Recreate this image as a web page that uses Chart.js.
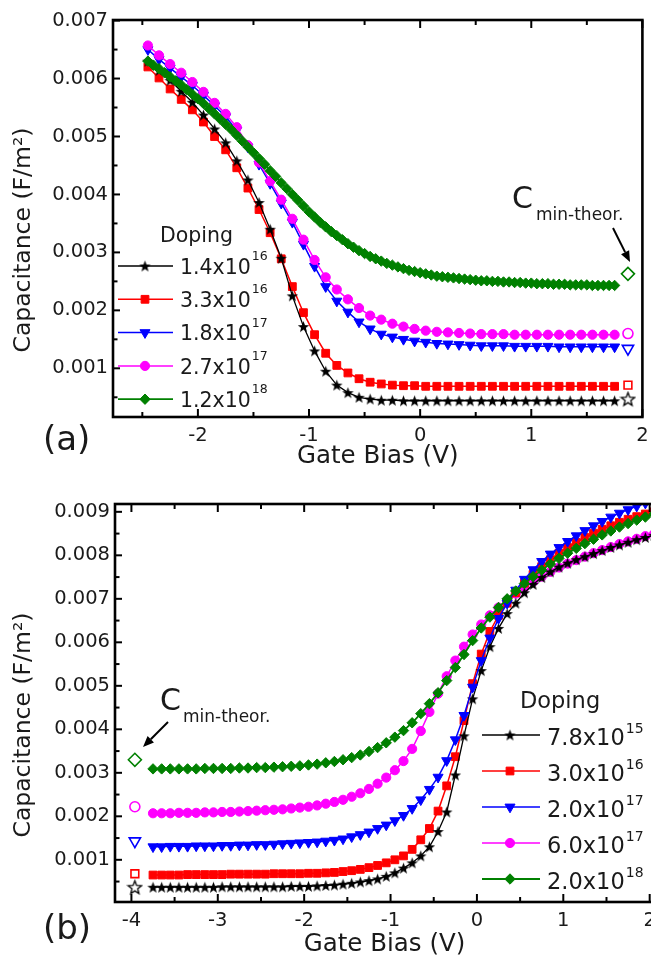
<!DOCTYPE html>
<html><head><meta charset="utf-8">
<script src="https://cdn.jsdelivr.net/npm/chart.js@4.4.1/dist/chart.umd.min.js"></script>
<style>
html,body{margin:0;padding:0;background:#fff;overflow:hidden;width:651px;height:960px;}
#ca{position:absolute;left:0;top:0;}
#cb{position:absolute;left:0;top:478px;}
</style></head><body>
<canvas id="ca" width="651" height="478"></canvas>
<canvas id="cb" width="700" height="482"></canvas>
<script>
// ---------------- DATA : panel (a) ----------------
const xA = [-2.45,-2.35,-2.25,-2.15,-2.05,-1.95,-1.85,-1.75,-1.65,-1.55,-1.45,-1.35,-1.25,-1.15,-1.05,-0.95,-0.85,-0.75,-0.65,-0.55,-0.45,-0.35,-0.25,-0.15,-0.05,0.05,0.15,0.25,0.35,0.45,0.55,0.65,0.75,0.85,0.95,1.05,1.15,1.25,1.35,1.45,1.55,1.65,1.75];
const blackA = [0.00630,0.00614,0.00597,0.00578,0.00559,0.00537,0.00513,0.00489,0.00458,0.00425,0.00386,0.00340,0.00290,0.00225,0.00172,0.00130,0.00095,0.00071,0.00058,0.00050,0.00047,0.00045,0.00045,0.00044,0.00044,0.00044,0.00044,0.00044,0.00044,0.00044,0.00044,0.00044,0.00044,0.00044,0.00044,0.00044,0.00044,0.00044,0.00044,0.00044,0.00044,0.00044,0.00044];
const redA = [0.00620,0.00601,0.00582,0.00564,0.00546,0.00525,0.00500,0.00477,0.00446,0.00411,0.00374,0.00334,0.00289,0.00241,0.00196,0.00158,0.00126,0.00105,0.00092,0.00082,0.00076,0.00073,0.00071,0.00070,0.00070,0.00069,0.00069,0.00069,0.00069,0.00069,0.00069,0.00069,0.00069,0.00069,0.00069,0.00069,0.00069,0.00069,0.00069,0.00069,0.00069,0.00069,0.00069];
const blueA = [0.00650,0.00633,0.00618,0.00603,0.00588,0.00571,0.00553,0.00534,0.00511,0.00482,0.00452,0.00419,0.00385,0.00352,0.00314,0.00276,0.00241,0.00216,0.00197,0.00180,0.00168,0.00159,0.00154,0.00150,0.00147,0.00145,0.00143,0.00142,0.00141,0.00140,0.00139,0.00139,0.00139,0.00138,0.00138,0.00138,0.00138,0.00137,0.00137,0.00137,0.00137,0.00137,0.00137];
const magentaA = [0.00657,0.00640,0.00625,0.00610,0.00594,0.00577,0.00558,0.00539,0.00516,0.00485,0.00455,0.00423,0.00391,0.00358,0.00322,0.00287,0.00257,0.00236,0.00219,0.00204,0.00191,0.00184,0.00177,0.00172,0.00168,0.00165,0.00163,0.00162,0.00161,0.00160,0.00159,0.00159,0.00159,0.00158,0.00158,0.00158,0.00158,0.00158,0.00158,0.00158,0.00158,0.00158,0.00158];
const xAg = [-2.45,-2.4,-2.35,-2.3,-2.25,-2.2,-2.15,-2.1,-2.05,-2,
-1.95,-1.9,-1.85,-1.8,-1.75,-1.7,-1.65,-1.6,-1.55,-1.5,
-1.45,-1.4,-1.35,-1.3,-1.25,-1.2,-1.15,-1.1,-1.05,-1,
-0.95,-0.9,-0.85,-0.8,-0.75,-0.7,-0.65,-0.6,-0.55,-0.5,
-0.45,-0.4,-0.35,-0.3,-0.25,-0.2,-0.15,-0.1,-0.05,0,
0.05,0.1,0.15,0.2,0.25,0.3,0.35,0.4,0.45,0.5,
0.55,0.6,0.65,0.7,0.75,0.8,0.85,0.9,0.95,1,
1.05,1.1,1.15,1.2,1.25,1.3,1.35,1.4,1.45,1.5,
1.55,1.6,1.65,1.7,1.75];
const greenA = [0.00630,0.00623,0.00617,0.00610,0.00603,0.00596,0.00589,0.00581,0.00573,0.00565,
0.00557,0.00548,0.00539,0.00530,0.00521,0.00512,0.00502,0.00492,0.00482,0.00472,
0.00462,0.00452,0.00441,0.00431,0.00420,0.00410,0.00400,0.00390,0.00380,0.00370,
0.00361,0.00352,0.00344,0.00336,0.00329,0.00322,0.00315,0.00309,0.00303,0.00298,
0.00293,0.00289,0.00285,0.00281,0.00278,0.00275,0.00272,0.00269,0.00267,0.00265,
0.00263,0.00261,0.00259,0.00258,0.00257,0.00256,0.00255,0.00254,0.00253,0.00252,
0.00251,0.00251,0.00250,0.00250,0.00249,0.00249,0.00248,0.00248,0.00247,0.00247,
0.00246,0.00246,0.00246,0.00245,0.00245,0.00245,0.00244,0.00244,0.00244,0.00244,
0.00243,0.00243,0.00243,0.00243,0.00243];
// theoretical Cmin (open symbols) for (a): black, red, blue, magenta, green
const xTheoryA = [1.87,1.87,1.87,1.87,1.87];
const theoryA = [0.00047,0.00071,0.00134,0.00160,0.00263];
const dopingA = ['1.4x10','3.3x10','1.8x10','2.7x10','1.2x10'];
const expA = ['16','16','17','17','18'];
const xTicksA = [-2.5,-2,-1.5,-1,-0.5,0,0.5,1,1.5,2];
const xLabelsA = ['','-2','','-1','','0','','1','','2'];
const yTicksA = [0.0005,0.001,0.0015,0.002,0.0025,0.003,0.0035,0.004,0.0045,0.005,0.0055,0.006,0.0065,0.007];
const yLabelsA = ['','0.001','','0.002','','0.003','','0.004','','0.005','','0.006','','0.007'];

// ---------------- DATA : panel (b) ----------------
const xB = [-3.75,-3.65,-3.55,-3.45,-3.35,-3.25,-3.15,-3.05,-2.95,-2.85,-2.75,-2.65,-2.55,-2.45,-2.35,-2.25,-2.15,-2.05,
-1.95,-1.85,-1.75,-1.65,-1.55,-1.45,-1.35,-1.25,-1.15,-1.05,-0.95,-0.85,-0.75,-0.65,-0.55,-0.45,-0.35,-0.25,-0.15,-0.05,
0.05,0.15,0.25,0.35,0.45,0.55,0.65,0.75,0.85,0.95,1.05,1.15,1.25,1.35,1.45,1.55,1.65,1.75,1.85,1.95,2.05];
const blackB = [0.00037,0.00037,0.00037,0.00037,0.00037,0.00037,0.00037,0.00037,0.00038,0.00038,0.00038,0.00038,0.00038,0.00038,0.00038,0.00038,0.00039,0.00039,
0.00039,0.00040,0.00041,0.00042,0.00044,0.00046,0.00049,0.00052,0.00056,0.00062,0.00070,0.00081,0.00093,0.00109,0.00130,0.00165,0.00210,0.00295,0.00385,0.00470,
0.00535,0.00590,0.00632,0.00666,0.00690,0.00714,0.00733,0.00749,0.00762,0.00773,0.00782,0.00790,0.00797,0.00804,0.00811,0.00818,0.00824,0.00830,0.00836,0.00841,0.00846];
const redB = [0.00065,0.00065,0.00065,0.00065,0.00066,0.00066,0.00066,0.00066,0.00066,0.00067,0.00067,0.00067,0.00067,0.00067,0.00068,0.00068,0.00068,0.00068,
0.00069,0.00069,0.00070,0.00071,0.00073,0.00075,0.00078,0.00082,0.00087,0.00093,0.00100,0.00109,0.00124,0.00146,0.00172,0.00212,0.00270,0.00337,0.00420,0.00505,
0.00573,0.00625,0.00662,0.00690,0.00714,0.00736,0.00756,0.00774,0.00790,0.00805,0.00818,0.00830,0.00841,0.00851,0.00860,0.00868,0.00876,0.00883,0.00889,0.00895,0.00900];
const blueB = [0.00130,0.00130,0.00131,0.00131,0.00131,0.00132,0.00132,0.00132,0.00133,0.00133,0.00134,0.00134,0.00135,0.00135,0.00136,0.00137,0.00138,0.00139,
0.00140,0.00141,0.00143,0.00145,0.00148,0.00153,0.00158,0.00164,0.00172,0.00180,0.00190,0.00202,0.00218,0.00238,0.00262,0.00290,0.00328,0.00376,0.00432,0.00497,
0.00558,0.00610,0.00655,0.00690,0.00720,0.00745,0.00767,0.00786,0.00803,0.00818,0.00832,0.00845,0.00857,0.00868,0.00878,0.00888,0.00897,0.00905,0.00913,0.00920,0.00927];
const magentaB = [0.00207,0.00207,0.00207,0.00208,0.00208,0.00208,0.00209,0.00209,0.00210,0.00210,0.00211,0.00212,0.00213,0.00214,0.00215,0.00216,0.00218,0.00220,
0.00222,0.00225,0.00229,0.00233,0.00238,0.00245,0.00253,0.00263,0.00275,0.00289,0.00306,0.00327,0.00355,0.00396,0.00440,0.00482,0.00522,0.00558,0.00590,0.00618,
0.00641,0.00662,0.00680,0.00697,0.00712,0.00726,0.00739,0.00751,0.00762,0.00772,0.00781,0.00789,0.00797,0.00805,0.00812,0.00819,0.00826,0.00832,0.00838,0.00844,0.00849];
const greenB = [0.00309,0.00309,0.00309,0.00309,0.00309,0.00309,0.00310,0.00310,0.00310,0.00310,0.00311,0.00311,0.00312,0.00312,0.00313,0.00314,0.00315,0.00316,
0.00318,0.00320,0.00323,0.00326,0.00330,0.00335,0.00341,0.00349,0.00358,0.00369,0.00382,0.00397,0.00415,0.00436,0.00459,0.00484,0.00512,0.00542,0.00572,0.00604,
0.00633,0.00658,0.00680,0.00700,0.00718,0.00735,0.00751,0.00766,0.00780,0.00793,0.00805,0.00816,0.00827,0.00837,0.00847,0.00856,0.00865,0.00873,0.00881,0.00888,0.00895];
const xTheoryB = [-3.96,-3.96,-3.96,-3.96,-3.96];
const theoryB = [0.00037,0.00068,0.00143,0.00222,0.00330];
const dopingB = ['7.8x10','3.0x10','2.0x10','6.0x10','2.0x10'];
const expB = ['15','16','17','17','18'];
const xTicksB = [-4,-3.5,-3,-2.5,-2,-1.5,-1,-0.5,0,0.5,1,1.5,2];
const xLabelsB = ['-4','','-3','','-2','','-1','','0','','1','','2'];
const yTicksB = [0.0005,0.001,0.0015,0.002,0.0025,0.003,0.0035,0.004,0.0045,0.005,0.0055,0.006,0.0065,0.007,0.0075,0.008,0.0085,0.009];
const yLabelsB = ['','0.001','','0.002','','0.003','','0.004','','0.005','','0.006','','0.007','','0.008','','0.009'];

// ---------------- styling ----------------
const FONT = "'DejaVu Sans', 'Liberation Sans', sans-serif";
const TXT = '#1a1a1a';
Chart.defaults.font.family = FONT;
Chart.defaults.color = TXT;

function makeStar(size, outer, inner, fill, stroke, lw) {
  const c = document.createElement('canvas');
  c.width = size; c.height = size;
  const g = c.getContext('2d');
  g.beginPath();
  for (let k = 0; k < 10; k++) {
    const r = k % 2 ? inner : outer;
    const ang = -Math.PI / 2 + k * Math.PI / 5;
    const px = size / 2 + r * Math.cos(ang), py = size / 2 + 0.6 + r * Math.sin(ang);
    if (k) g.lineTo(px, py); else g.moveTo(px, py);
  }
  g.closePath();
  if (fill) { g.fillStyle = fill; g.fill(); }
  if (stroke) { g.strokeStyle = stroke; g.lineWidth = lw; g.stroke(); }
  return c;
}
const starFill = makeStar(13, 6, 2.5, '#000', null, 0);
const starOpen = makeStar(17, 7, 3, null, '#000', 1.3);

// marker styles for the 5 series: black, red, blue, magenta, green
const STY = [
  { color: '#000000', style: starFill, open: starOpen, r: 5, ro: 7, rot: 0, lw: 1.3 },
  { color: '#ff0000', style: 'rect', open: 'rect', r: 5.5, ro: 5.5, rot: 0, lw: 1.5 },
  { color: '#0000ff', style: 'triangle', open: 'triangle', r: 5.8, ro: 6.5, rot: 180, lw: 1.5 },
  { color: '#ff00ff', style: 'circle', open: 'circle', r: 4.6, ro: 5, rot: 0, lw: 1.5 },
  { color: '#008000', style: 'rectRot', open: 'rectRot', r: 5.2, ro: 6.5, rot: 0, lw: 1.8 }
];

function series(xs, ys, s) {
  return {
    data: xs.map((x, i) => ({ x: x, y: ys[i] })),
    borderColor: s.color, backgroundColor: s.color, borderWidth: s.lw,
    pointStyle: s.style, pointRadius: s.r, pointHoverRadius: s.r, pointRotation: s.rot,
    pointBackgroundColor: s.color, pointBorderColor: s.color, pointBorderWidth: 1,
    tension: 0, fill: false, showLine: true
  };
}
function theory(x, y, s) {
  return {
    data: [{ x: x, y: y }], showLine: false,
    pointStyle: s.open, pointRadius: s.ro, pointHoverRadius: s.ro, pointRotation: s.rot,
    pointBackgroundColor: 'rgba(255,255,255,0)', pointBorderColor: s.color, pointBorderWidth: 1.6,
    borderColor: s.color, backgroundColor: 'rgba(255,255,255,0)'
  };
}

function drawMarker(ctx, s, x, y) {
  ctx.save();
  ctx.fillStyle = s.color; ctx.strokeStyle = s.color; ctx.lineWidth = 1;
  Chart.helpers.drawPoint(ctx, { pointStyle: s.style, rotation: s.rot, radius: s.r, borderWidth: 1 }, x, y);
  ctx.restore();
}
function drawArrow(ctx, x1, y1, x2, y2) {
  const ang = Math.atan2(y2 - y1, x2 - x1), L = 11, W = 4.5;
  const bx = x2 - L * Math.cos(ang), by = y2 - L * Math.sin(ang);
  ctx.save();
  ctx.strokeStyle = '#000'; ctx.fillStyle = '#000'; ctx.lineWidth = 2;
  ctx.beginPath(); ctx.moveTo(x1, y1); ctx.lineTo(bx, by); ctx.stroke();
  ctx.beginPath();
  ctx.moveTo(x2, y2);
  ctx.lineTo(bx + W * Math.sin(ang), by - W * Math.cos(ang));
  ctx.lineTo(bx - W * Math.sin(ang), by + W * Math.cos(ang));
  ctx.closePath(); ctx.fill();
  ctx.restore();
}
function drawLegend(ctx, L, labels, exps) {
  ctx.save();
  ctx.fillStyle = TXT; ctx.textBaseline = 'alphabetic';
  ctx.font = L.titleSize + 'px ' + FONT;
  ctx.fillText('Doping', L.titleX, L.titleY);
  for (let i = 0; i < 5; i++) {
    const s = STY[i], y = L.y0 + i * L.dy;
    ctx.strokeStyle = s.color; ctx.lineWidth = s.lw;
    ctx.beginPath(); ctx.moveTo(L.x1, y); ctx.lineTo(L.x2, y); ctx.stroke();
    drawMarker(ctx, s, L.xm, y);
    ctx.fillStyle = TXT;
    ctx.font = L.size + 'px ' + FONT;
    ctx.fillText(labels[i], L.tx, y + L.tdy);
    const w = ctx.measureText(labels[i]).width;
    ctx.font = L.supSize + 'px ' + FONT;
    ctx.fillText(exps[i], L.tx + w + 1, y + L.sdy);
  }
  ctx.restore();
}
function drawCmin(ctx, cx, cy, sx, sy) {
  ctx.save();
  ctx.fillStyle = TXT; ctx.textBaseline = 'alphabetic';
  ctx.font = '30px ' + FONT; ctx.fillText('C', cx, cy);
  ctx.font = '17px ' + FONT; ctx.fillText('min-theor.', sx, sy);
  ctx.restore();
}
function drawPanelLabel(ctx, t, x, y) {
  ctx.save();
  ctx.fillStyle = TXT; ctx.textBaseline = 'alphabetic';
  ctx.font = '34px ' + FONT; ctx.fillText(t, x, y);
  ctx.restore();
}
function drawYTitle(ctx, cx, cy) {
  ctx.save();
  ctx.translate(cx, cy); ctx.rotate(-Math.PI / 2);
  ctx.textAlign = 'center'; ctx.textBaseline = 'middle';
  ctx.fillStyle = TXT; ctx.font = '23.5px ' + FONT;
  ctx.fillText('Capacitance (F/m²)', 0, 0);
  ctx.restore();
}

// inward ticks + frame
const frameTicks = {
  id: 'frameTicks',
  afterDatasetsDraw(chart) {
    const ctx = chart.ctx, a = chart.chartArea;
    const xs = chart.scales.x, ys = chart.scales.y;
    ctx.save();
    ctx.strokeStyle = '#000'; ctx.lineWidth = 2;
    const seg = (x1, y1, x2, y2) => { ctx.beginPath(); ctx.moveTo(x1, y1); ctx.lineTo(x2, y2); ctx.stroke(); };
    xs.ticks.forEach(t => {
      const px = xs.getPixelForValue(t.value);
      const len = t.label ? 8 : 5;
      seg(px, a.bottom, px, a.bottom - len);
      seg(px, a.top, px, a.top + len);
    });
    ys.ticks.forEach(t => {
      const py = ys.getPixelForValue(t.value);
      const len = t.label ? 7 : 4.5;
      seg(a.left, py, a.left + len, py);
    });
    ctx.lineWidth = 2.6;
    ctx.strokeRect(a.left, a.top, a.right - a.left, a.bottom - a.top);
    ctx.restore();
  }
};

function makeOptions(c) {
  return {
    responsive: false, animation: false, devicePixelRatio: 1, events: [],
    layout: { padding: { top: c.padTop, right: c.padRight, left: 0, bottom: 0 } },
    plugins: { legend: { display: false }, tooltip: { enabled: false } },
    scales: {
      x: {
        type: 'linear', min: c.xmin, max: c.xmax,
        grid: { display: false, drawTicks: false }, border: { display: false },
        afterBuildTicks: ax => { ax.ticks = c.xTicks.map(v => ({ value: v })); },
        afterFit: ax => { ax.height = c.xAxisH; ax.paddingLeft = 0; ax.paddingRight = 0; },
        ticks: { autoSkip: false, maxRotation: 0, minRotation: 0, padding: 7, color: TXT,
          font: { size: 19.5 }, callback: (v, i) => c.xLabels[i] },
        title: { display: true, text: 'Gate Bias (V)', color: TXT, font: { size: 24.5 },
          padding: { top: 0, bottom: c.xTitlePad } }
      },
      y: {
        type: 'linear', min: c.ymin, max: c.ymax,
        grid: { display: false, drawTicks: false }, border: { display: false },
        afterBuildTicks: ax => { ax.ticks = c.yTicks.map(v => ({ value: v })); },
        afterFit: ax => { ax.width = c.yAxisW; ax.paddingTop = 0; ax.paddingBottom = 0; },
        ticks: { autoSkip: false, padding: 5, color: TXT, font: { size: 19.5 },
          callback: (v, i) => c.yLabels[i] },
        title: { display: false }
      }
    }
  };
}

// ---------------- chart (a) ----------------
const annotA = {
  id: 'annotA',
  afterDraw(chart) {
    const ctx = chart.ctx;
    drawYTitle(ctx, 24, 240);
    drawLegend(ctx, { titleX: 160, titleY: 242, titleSize: 20.5, y0: 266, dy: 33.3, x1: 118, x2: 173, xm: 145,
      tx: 180, tdy: 7.6, size: 20.5, supSize: 12.5, sdy: -6 }, dopingA, expA);
    drawCmin(ctx, 512, 208, 536, 220);
    drawArrow(ctx, 613, 228, 630, 262);
    drawPanelLabel(ctx, '(a)', 43, 450);
  }
};
new Chart(document.getElementById('ca'), {
  type: 'line',
  data: { datasets: [
    series(xAg, greenA, STY[4]),
    series(xA, magentaA, STY[3]),
    series(xA, blueA, STY[2]),
    series(xA, blackA, STY[0]),
    series(xA, redA, STY[1]),
    theory(xTheoryA[0], theoryA[0], STY[0]),
    theory(xTheoryA[1], theoryA[1], STY[1]),
    theory(xTheoryA[2], theoryA[2], STY[2]),
    theory(xTheoryA[3], theoryA[3], STY[3]),
    theory(xTheoryA[4], theoryA[4], STY[4])
  ] },
  options: makeOptions({ padTop: 20, padRight: 6, xmin: -2.764, xmax: 2.0, ymin: 0.00016, ymax: 0.00701,
    xTicks: xTicksA, xLabels: xLabelsA, yTicks: yTicksA, yLabels: yLabelsA,
    xAxisH: 61, yAxisW: 113, xTitlePad: 7 }),
  plugins: [frameTicks, annotA]
});

// ---------------- chart (b) ----------------
const annotB = {
  id: 'annotB',
  afterDraw(chart) {
    const ctx = chart.ctx;
    drawYTitle(ctx, 24, 247);
    drawLegend(ctx, { titleX: 520, titleY: 230, titleSize: 22.5, y0: 257, dy: 36, x1: 482, x2: 540, xm: 510,
      tx: 547, tdy: 10, size: 22.5, supSize: 14, sdy: -2 }, dopingB, expB);
    drawCmin(ctx, 160, 232, 183, 244);
    drawArrow(ctx, 168, 244, 143, 269);
    drawPanelLabel(ctx, '(b)', 43, 461);
  }
};
new Chart(document.getElementById('cb'), {
  type: 'line',
  data: { datasets: [
    series(xB, greenB, STY[4]),
    series(xB, blueB, STY[2]),
    series(xB, blackB, STY[0]),
    series(xB, redB, STY[1]),
    series(xB, magentaB, STY[3]),
    theory(xTheoryB[0], theoryB[0], STY[0]),
    theory(xTheoryB[1], theoryB[1], STY[1]),
    theory(xTheoryB[2], theoryB[2], STY[2]),
    theory(xTheoryB[3], theoryB[3], STY[3]),
    theory(xTheoryB[4], theoryB[4], STY[4])
  ] },
  options: makeOptions({ padTop: 26, padRight: 46, xmin: -4.19, xmax: 2.05, ymin: 0.00003, ymax: 0.00918,
    xTicks: xTicksB, xLabels: xLabelsB, yTicks: yTicksB, yLabels: yLabelsB,
    xAxisH: 58, yAxisW: 115, xTitlePad: 1 }),
  plugins: [frameTicks, annotB]
});
</script></body></html>
